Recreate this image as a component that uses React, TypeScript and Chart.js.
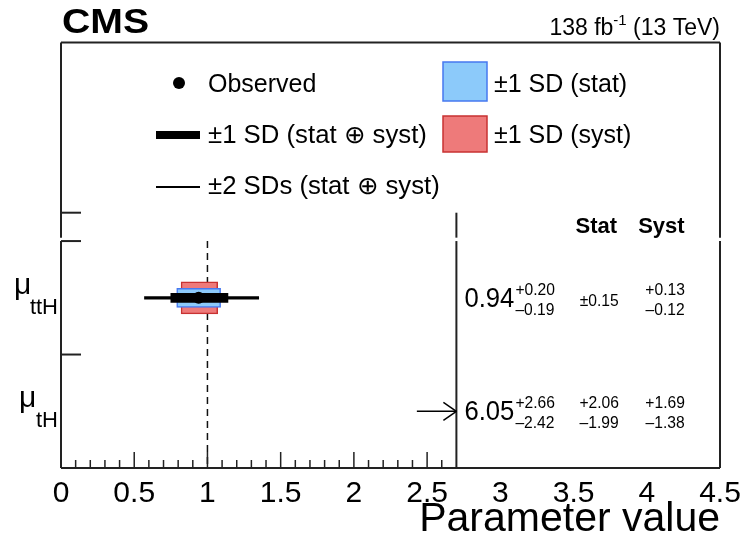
import React, { useEffect, useRef } from "react";
import { Chart, registerables } from "chart.js";
Chart.register(...registerables);

// ---------------- data ----------------
const categories = ["ttH", "tH"]; // parameters (μ subscripts)
const categoryPos = [1.5, 0.5]; // row centres on the y scale
const observed = [0.94, 6.05];
const totalUp = [0.2, 2.66];
const totalDown = [0.19, 2.42];
const statUp = [0.15, 2.06];
const statDown = [0.15, 1.99];
const systUp = [0.13, 1.69];
const systDown = [0.12, 1.38];
const twoSdLow = [0.57, null];
const twoSdHigh = [1.35, null];
const xTickValues = [0, 0.5, 1, 1.5, 2, 2.5, 3, 3.5, 4, 4.5];
const xMin = 0;
const xMax = 4.5;
const panelMax = 2.7; // right edge of the plotting panel
const arrowStart = 2.43;

const FONT = "'Liberation Sans', Arial, Helvetica, sans-serif";

function txt(ctx: CanvasRenderingContext2D, s: string, x: number, y: number, font: string, align: CanvasTextAlign = "left", base: CanvasTextBaseline = "alphabetic", sx = 1) {
  ctx.save();
  ctx.translate(x, y);
  ctx.scale(sx, 1);
  ctx.font = font;
  ctx.textAlign = align;
  ctx.textBaseline = base;
  ctx.fillStyle = "#000";
  ctx.fillText(s, 0, 0);
  ctx.restore();
}
function line(ctx: CanvasRenderingContext2D, x1: number, y1: number, x2: number, y2: number, w = 2, col = "#222") {
  ctx.save();
  ctx.strokeStyle = col;
  ctx.lineWidth = w;
  ctx.beginPath();
  ctx.moveTo(x1, y1);
  ctx.lineTo(x2, y2);
  ctx.stroke();
  ctx.restore();
}
const fmt = (v: number) => v.toFixed(2);

const decor = {
  id: "cmsDecor",
  beforeDatasetsDraw(chart: any) {
    const ctx = chart.ctx as CanvasRenderingContext2D;
    const xs = chart.scales.x, ys = chart.scales.y;
    ctx.save();
    ctx.setLineDash([7, 5]);
    line(ctx, xs.getPixelForValue(1), ys.getPixelForValue(2.0), xs.getPixelForValue(1), ys.getPixelForValue(0), 1.5, "#111");
    ctx.restore();
  },
  afterDatasetsDraw(chart: any) {
    const ctx = chart.ctx as CanvasRenderingContext2D;
    const xs = chart.scales.x, ys = chart.scales.y;
    const ca = chart.chartArea;
    const L = ca.left, R = ca.right, T = ca.top, B = ca.bottom;
    const yGapLo = ys.getPixelForValue(2.0);
    const yGapHi = ys.getPixelForValue(2.03);
    const yHead = ys.getPixelForValue(2.25);
    const xP = xs.getPixelForValue(panelMax);
    // frame
    line(ctx, L, T, R, T);
    line(ctx, L, B, R, B);
    line(ctx, L, T, L, yGapHi);
    line(ctx, L, yGapLo, L, B);
    line(ctx, R, T, R, yGapHi);
    line(ctx, R, yGapLo, R, B);
    line(ctx, xP, yHead, xP, yGapHi);
    line(ctx, xP, yGapLo, xP, B);
    // y ticks
    [1.0, 2.0, 2.25].forEach((v) => {
      const y = ys.getPixelForValue(v);
      line(ctx, L, y, L + 20, y);
    });
    // x ticks (only inside the left panel)
    for (let i = 1; i <= 26; i++) {
      const v = i / 10;
      const x = xs.getPixelForValue(v);
      const major = i % 5 === 0;
      line(ctx, x, B, x, B - (major ? 16 : 8), 1.5);
    }
    // rows: labels, arrows and numbers
    categories.forEach((c, i) => {
      const cy = ys.getPixelForValue(categoryPos[i]);
      // y label
      txt(ctx, "μ", c === "ttH" ? 14 : 19, cy - 4, `30px ${FONT}`);
      txt(ctx, c, 58, cy + 16, `22px ${FONT}`, "right");
      if (observed[i] > panelMax) {
        const x1 = xs.getPixelForValue(arrowStart), x2 = xs.getPixelForValue(panelMax);
        line(ctx, x1, cy, x2, cy, 1.5, "#000");
        line(ctx, x2 - 13, cy - 9, x2, cy, 1.5, "#000");
        line(ctx, x2 - 13, cy + 9, x2, cy, 1.5, "#000");
      }
      const xv = xs.getPixelForValue(2.755);
      const mainFont = `27px ${FONT}`;
      txt(ctx, fmt(observed[i]), xv, cy + 9, mainFont, "left", "alphabetic", 0.95);
      ctx.font = mainFont;
      const w = ctx.measureText(fmt(observed[i])).width * 0.95;
      const small = `17px ${FONT}`;
      txt(ctx, "+" + fmt(totalUp[i]), xv + w + 1, cy - 3, small, "left", "alphabetic", 0.92);
      txt(ctx, "–" + fmt(totalDown[i]), xv + w + 1, cy + 17, small, "left", "alphabetic", 0.92);
      const xStat = xs.getPixelForValue(3.675);
      if (statUp[i] === statDown[i]) {
        txt(ctx, "±" + fmt(statUp[i]), xStat, cy + 8, small, "center", "alphabetic", 0.92);
      } else {
        txt(ctx, "+" + fmt(statUp[i]), xStat, cy - 3, small, "center", "alphabetic", 0.92);
        txt(ctx, "–" + fmt(statDown[i]), xStat, cy + 17, small, "center", "alphabetic", 0.92);
      }
      const xSyst = xs.getPixelForValue(4.125);
      txt(ctx, "+" + fmt(systUp[i]), xSyst, cy - 3, small, "center", "alphabetic", 0.92);
      txt(ctx, "–" + fmt(systDown[i]), xSyst, cy + 17, small, "center", "alphabetic", 0.92);
    });
    // column header
    const hy = ys.getPixelForValue(2.14);
    txt(ctx, "Stat", xs.getPixelForValue(3.655), hy + 8, `bold 22px ${FONT}`, "center");
    txt(ctx, "Syst", xs.getPixelForValue(4.1), hy + 8, `bold 22px ${FONT}`, "center");

    // legend
    ctx.save();
    ctx.fillStyle = "#000";
    ctx.beginPath();
    ctx.arc(179, 83, 6, 0, Math.PI * 2);
    ctx.fill();
    ctx.restore();
    const lf = `25px ${FONT}`;
    txt(ctx, "Observed", 208, 85, lf, "left", "middle");
    ctx.save();
    ctx.fillStyle = "#000";
    ctx.fillRect(156, 131, 44, 8);
    ctx.restore();
    txt(ctx, "±1 SD (stat ⊕ syst)", 208, 136, lf, "left", "middle", 1.03);
    line(ctx, 156, 187, 200, 187, 2, "#000");
    txt(ctx, "±2 SDs (stat ⊕ syst)", 208, 187, lf, "left", "middle", 1.03);
    ctx.save();
    ctx.fillStyle = "rgb(140,202,250)";
    ctx.strokeStyle = "rgb(70,120,240)";
    ctx.lineWidth = 1.5;
    ctx.fillRect(443, 62, 44, 39);
    ctx.strokeRect(443, 62, 44, 39);
    ctx.fillStyle = "rgb(238,122,122)";
    ctx.strokeStyle = "rgb(200,50,50)";
    ctx.fillRect(443, 116, 44, 36);
    ctx.strokeRect(443, 116, 44, 36);
    ctx.restore();
    txt(ctx, "±1 SD (stat)", 494, 85, lf, "left", "middle");
    txt(ctx, "±1 SD (syst)", 494, 136, lf, "left", "middle");
  },
  afterDraw(chart: any) {
    const ctx = chart.ctx as CanvasRenderingContext2D;
    const ca = chart.chartArea;
    txt(ctx, "CMS", ca.left + 1, 33, `bold 35px ${FONT}`, "left", "alphabetic", 1.12);
    // luminosity label, right aligned
    const f = `23px ${FONT}`, fs = `15px ${FONT}`;
    ctx.font = f;
    const a = "138 fb", c = " (13 TeV)";
    const wa = ctx.measureText(a).width, wc = ctx.measureText(c).width;
    ctx.font = fs;
    const wb = ctx.measureText("-1").width;
    const x0 = ca.right - (wa + wb + wc);
    txt(ctx, a, x0, 35, f);
    txt(ctx, "-1", x0 + wa, 25, fs);
    txt(ctx, c, x0 + wa + wb, 35, f);
  },
};

export default function App() {
  const ref = useRef<HTMLCanvasElement>(null);
  useEffect(() => {
    const inPanel = categories.map((_, i) => observed[i] <= panelMax);
    const rowData = (lo: (number | null)[], hi: (number | null)[]) =>
      categories
        .map((_, i) => (inPanel[i] && lo[i] != null && hi[i] != null ? { x: [lo[i], hi[i]], y: categoryPos[i] } : null))
        .filter(Boolean);
    const chart = new Chart(ref.current!, {
      type: "bar",
      data: {
        datasets: [
          {
            type: "scatter",
            label: "Observed",
            data: categories.map((_, i) => (inPanel[i] ? { x: observed[i], y: categoryPos[i] } : null)).filter(Boolean) as any,
            pointRadius: 6,
            pointBackgroundColor: "#000",
            pointBorderWidth: 0,
            order: 0,
          },
          {
            label: "±1 SD (stat ⊕ syst)",
            indexAxis: "y",
            data: rowData(observed.map((o, i) => o - totalDown[i]), observed.map((o, i) => o + totalUp[i])) as any,
            backgroundColor: "#000",
            barThickness: 9,
            grouped: false,
            order: 1,
          },
          {
            label: "±2 SDs (stat ⊕ syst)",
            indexAxis: "y",
            data: rowData(twoSdLow, twoSdHigh) as any,
            backgroundColor: "#000",
            barThickness: 2.5,
            grouped: false,
            order: 2,
          },
          {
            label: "±1 SD (stat)",
            indexAxis: "y",
            data: rowData(observed.map((o, i) => o - statDown[i]), observed.map((o, i) => o + statUp[i])) as any,
            backgroundColor: "rgb(140,202,250)",
            borderColor: "rgb(70,120,240)",
            borderWidth: 1.5,
            borderSkipped: false,
            barThickness: 19,
            grouped: false,
            order: 3,
          },
          {
            label: "±1 SD (syst)",
            indexAxis: "y",
            data: rowData(observed.map((o, i) => o - systDown[i]), observed.map((o, i) => o + systUp[i])) as any,
            backgroundColor: "rgb(238,122,122)",
            borderColor: "rgb(200,50,50)",
            borderWidth: 1.5,
            borderSkipped: false,
            barThickness: 32,
            grouped: false,
            order: 4,
          },
        ] as any,
      },
      options: {
        responsive: false,
        animation: false,
        devicePixelRatio: 1,
        indexAxis: "y",
        layout: { padding: { left: 61, right: 24, top: 42.5, bottom: 0 } },
        plugins: { legend: { display: false }, tooltip: { enabled: false } },
        scales: {
          x: {
            type: "linear",
            position: "bottom",
            min: xMin,
            max: xMax,
            offset: false,
            grid: { display: false },
            border: { display: false },
            afterBuildTicks: (s: any) => {
              s.ticks = xTickValues.map((v) => ({ value: v }));
            },
            afterFit: (s: any) => {
              s.height = 76;
            },
            ticks: {
              color: "#000",
              font: { family: FONT, size: 30 },
              padding: 0,
              maxRotation: 0,
              autoSkip: false,
              callback: (v: any) => String(v),
            },
            title: {
              display: true,
              text: "Parameter value",
              align: "end",
              color: "#000",
              font: { family: FONT, size: 41 },
              padding: 0,
            },
          },
          y: {
            type: "linear",
            min: 0,
            max: 3.75,
            offset: false,
            display: false,
          },
        },
      } as any,
      plugins: [decor],
    });
    return () => chart.destroy();
  }, []);
  return (
    <div style={{ position: "fixed", left: 0, top: 0, width: 744, height: 544, background: "#fff" }}>
      <canvas ref={ref} width={744} height={544} style={{ width: 744, height: 544 }} />
    </div>
  );
}
